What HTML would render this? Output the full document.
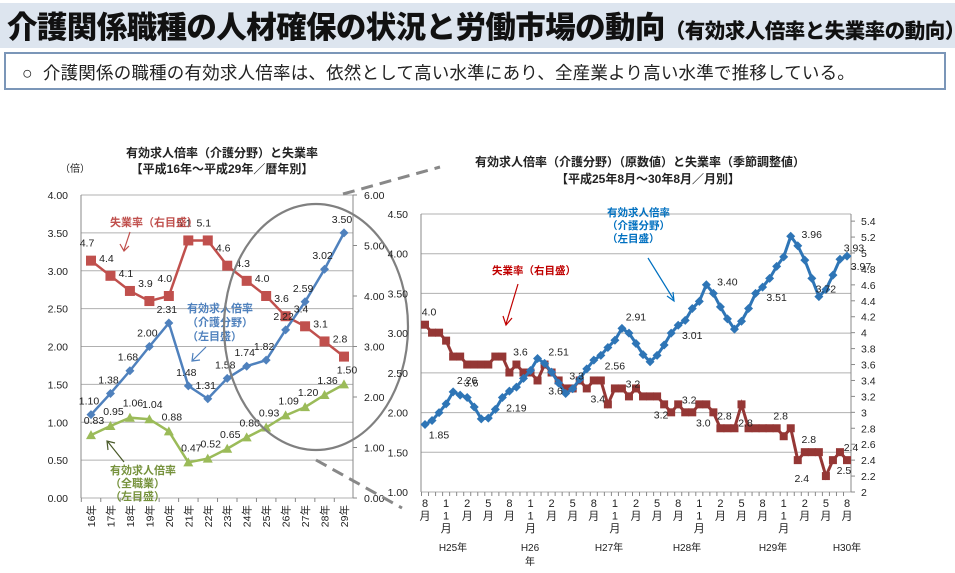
<!DOCTYPE html>
<html><head><meta charset="utf-8"><style>
body{margin:0;width:955px;height:573px;background:#fff;overflow:hidden;font-family:"Liberation Sans","Noto Sans CJK JP",sans-serif;position:relative}
#hdr{position:absolute;left:0;top:3px;width:955px;height:45px;background:#dde5ef}
#title{position:absolute;left:7px;top:3px;font-size:30.5px;font-weight:900;color:#111;white-space:nowrap;letter-spacing:-0.6px}
#title span{font-size:20.5px;letter-spacing:-0.5px}
#box{position:absolute;left:4px;top:52px;width:942px;height:38px;border:2px solid #7b96b8;box-sizing:border-box}
#boxt{position:absolute;left:16px;top:6px;font-size:17.5px;color:#222;white-space:nowrap;letter-spacing:0.2px}
svg{position:absolute;left:0;top:0}
</style></head><body>
<div id="hdr"></div>
<div id="title">介護関係職種の人材確保の状況と労働市場の動向<span>（有効求人倍率と失業率の動向）</span></div>
<div id="box"><div id="boxt">○&nbsp; 介護関係の職種の有効求人倍率は、依然として高い水準にあり、全産業より高い水準で推移している。</div></div>
<svg id="chart" width="955" height="573"></svg>
<script>
// ---- left chart data ----
const leftCats = ['16年','17年','18年','19年','20年','21年','22年','23年','24年','25年','26年','27年','28年','29年'];
const leftCare = [1.10,1.38,1.68,2.00,2.31,1.48,1.31,1.58,1.74,1.82,2.22,2.59,3.02,3.50];
const leftAll = [0.83,0.95,1.06,1.04,0.88,0.47,0.52,0.65,0.80,0.93,1.09,1.20,1.36,1.50];
const leftUnemp = [4.7,4.4,4.1,3.9,4.0,5.1,5.1,4.6,4.3,4.0,3.6,3.4,3.1,2.8];
const leftTicksL = ['0.00','0.50','1.00','1.50','2.00','2.50','3.00','3.50','4.00'];
const leftTicksR = ['0.00','1.00','2.00','3.00','4.00','5.00','6.00'];
// ---- right chart data ----
const rightCare = [1.85,1.90,2.00,2.11,2.26,2.22,2.19,2.07,1.92,1.93,2.04,2.19,2.27,2.32,2.43,2.53,2.68,2.62,2.51,2.37,2.24,2.30,2.42,2.55,2.66,2.72,2.82,2.91,3.06,3.00,2.87,2.73,2.64,2.72,2.85,3.00,3.10,3.16,3.31,3.40,3.61,3.50,3.33,3.18,3.05,3.15,3.31,3.50,3.58,3.69,3.84,3.96,4.22,4.10,3.92,3.69,3.46,3.55,3.73,3.93,3.97];
const rightUnemp = [4.1,4.0,4.0,3.9,3.7,3.7,3.6,3.6,3.6,3.6,3.7,3.7,3.5,3.6,3.5,3.5,3.4,3.6,3.5,3.4,3.3,3.3,3.4,3.3,3.4,3.4,3.1,3.3,3.3,3.2,3.3,3.2,3.2,3.2,3.1,3.0,3.1,3.0,3.0,3.1,3.1,3.0,2.8,2.8,2.8,3.1,2.8,2.8,2.8,2.8,2.8,2.7,2.8,2.4,2.5,2.5,2.5,2.2,2.4,2.5,2.4];
const rightTicksL = ['1.00','1.50','2.00','2.50','3.00','3.50','4.00','4.50'];
const rightTicksR = ['2','2.2','2.4','2.6','2.8','3','3.2','3.4','3.6','3.8','4','4.2','4.4','4.6','4.8','5','5.2','5.4'];
const rightMonths = ['8月','11月','2月','5月','8月','11月','2月','5月','8月','11月','2月','5月','8月','11月','2月','5月','8月','11月','2月','5月','8月'];
const rightYears = ['H25年','H26年','H27年','H28年','H29年','H30年'];
const rightCareLabels = ['1.85','2.26','2.19','2.51','2.56','2.91','3.01','3.40','3.51','3.96','3.72','3.93','3.97'];
const rightCareLabelIdx = [0,4,11,17,25,28,36,41,48,53,55,59,60];
const rightUnempLabels = ['4.0','3.6','3.6','3.6','3.3','3.4','3.2','3.2','3.2','3.0','2.8','2.8','2.8','2.4','2.8','2.5','2.4'];
const rightUnempLabelIdx = [0,6,13,18,21,24,29,33,37,39,42,45,50,53,54,59,60];

const S='http://www.w3.org/2000/svg', svg=document.getElementById('chart');
function mk(tag,at,parent){const e=document.createElementNS(S,tag);for(const k in at)e.setAttribute(k,at[k]);(parent||svg).appendChild(e);return e;}
function tx(x,y,s,at){const e=mk('text',Object.assign({x:x,y:y,'font-size':10.5,fill:'#222','font-family':'"Liberation Sans","Noto Sans CJK JP",sans-serif'},at||{}));e.textContent=s;return e;}

// ===== LEFT CHART =====
const L={x0:81,x1:353,y0:498,y1:195};
const lx=i=>91+i*(344-91)/(leftCats.length-1);
const lyL=v=>L.y0-(v/4)*(L.y0-L.y1);
const lyR=v=>L.y0-(v/6)*(L.y0-L.y1);
let g=mk('g',{});


let e;
leftTicksL.forEach(t=>{const y=lyL(+t);const l=mk('line',{x1:L.x0,x2:L.x1,y1:y,y2:y,stroke:'#b0b0b0','stroke-width':1},g);
 e=tx(68,y+4,t,{'text-anchor':'end'});});
leftTicksR.forEach(t=>{const y=lyR(+t);mk('line',{x1:L.x1,x2:L.x1+4,y1:y,y2:y,stroke:'#888'},g);
 e=tx(364,y+4,t);});
mk('line',{x1:L.x0,x2:L.x0,y1:L.y1,y2:L.y0,stroke:'#888'},g);
mk('line',{x1:L.x1,x2:L.x1,y1:L.y1,y2:L.y0,stroke:'#888'},g);
leftCats.forEach((c,i)=>{e=tx(lx(i)+4,505,c,{'text-anchor':'end',transform:`rotate(-90 ${lx(i)+4} 505)`});
 mk('line',{x1:lx(i)-9.7,x2:lx(i)-9.7,y1:L.y0,y2:L.y0+4,stroke:'#888'},g);});
function series(vals,xf,yf,color,marker,w,name,ms){
 const pts=vals.map((v,i)=>[xf(i),yf(v)]);
 const p=mk('polyline',{points:pts.map(p=>p.join(',')).join(' '),fill:'none',stroke:color,'stroke-width':w});
 
 pts.forEach(([x,y])=>{let m;
  if(marker==='sq')m=mk('rect',{x:x-ms,y:y-ms,width:2*ms,height:2*ms,fill:color});
  else if(marker==='di')m=mk('polygon',{points:`${x},${y-ms} ${x+ms},${y} ${x},${y+ms} ${x-ms},${y}`,fill:color});
  else m=mk('polygon',{points:`${x},${y-ms} ${x+ms},${y+ms*0.8} ${x-ms},${y+ms*0.8}`,fill:color});
  });
 return pts;}
const pu=series(leftUnemp,lx,lyR,'#c0504d','sq',2.5,'left-unemployment',5);
const pc=series(leftCare,lx,lyL,'#4f81bd','di',2.5,'left-care-ratio',4.5);
const pa=series(leftAll,lx,lyL,'#9bbb59','tri',2.5,'left-all-ratio',5);
leftUnemp.forEach((v,i)=>{e=tx(pu[i][0]-4,pu[i][1]-14,v.toFixed(1),{'text-anchor':'middle'});});
leftCare.forEach((v,i)=>{e=tx(pc[i][0]-2,pc[i][1]-10,v.toFixed(2),{'text-anchor':'middle'});});
leftAll.forEach((v,i)=>{e=tx(pa[i][0]+3,pa[i][1]-11,v.toFixed(2),{'text-anchor':'middle'});});
e=tx(222,157,'有効求人倍率（介護分野）と失業率',{'text-anchor':'middle','font-size':12,'font-weight':'bold'});
e=tx(222,173,'【平成16年～平成29年／暦年別】',{'text-anchor':'middle','font-size':12,'font-weight':'bold'});
e=tx(60,172,'（倍）',{'font-size':10});
e=tx(110,226,'失業率（右目盛）',{'font-size':11,'font-weight':'bold',fill:'#c0504d'});
mk('path',{d:'M130,232 L124,250 M120,244 L124,251 L129,246',stroke:'#c0504d',fill:'none','stroke-width':1.2});
['有効求人倍率','（介護分野）','（左目盛）'].forEach((s,k)=>{e=tx(187,312+k*14,s,{'font-size':11,'font-weight':'bold',fill:'#4f81bd'});});
mk('path',{d:'M206,347 L193,360 M193,353 L192,361 L200,360',stroke:'#4f81bd',fill:'none','stroke-width':1.2});
['有効求人倍率','（全職業）','（左目盛）'].forEach((s,k)=>{e=tx(110,474+k*13,s,{'font-size':11,'font-weight':'bold',fill:'#76923c'});});
mk('path',{d:'M124,462 L108,442 M108,450 L107,441 L115,443',stroke:'#4a5a2a',fill:'none','stroke-width':1.2});
e=mk('ellipse',{cx:316,cy:327,rx:92,ry:123,fill:'none',stroke:'#808080','stroke-width':2.2});
mk('line',{x1:343,y1:194,x2:440,y2:167,stroke:'#888','stroke-width':3,'stroke-dasharray':'12,7'});
mk('line',{x1:316,y1:460,x2:402,y2:508,stroke:'#888','stroke-width':3,'stroke-dasharray':'12,7'});

// ===== RIGHT CHART =====
const R={x0:421,x1:851,y0:492,y1:214};
const rx=i=>425+i*(847-425)/(rightCare.length-1);
const ryL=v=>R.y0-(v-1)/3.5*(R.y0-R.y1);
const ryR=v=>R.y0-(v-2)/3*(R.y0-253);
rightTicksL.forEach(t=>{const y=ryL(+t);const l=mk('line',{x1:R.x0,x2:R.x1,y1:y,y2:y,stroke:'#b0b0b0'});
 e=tx(408,y+4,t,{'text-anchor':'end'});});
rightTicksR.forEach(t=>{const y=ryR(+t);mk('line',{x1:R.x1,x2:R.x1+4,y1:y,y2:y,stroke:'#888'});
 e=tx(861,y+4,t);});
mk('line',{x1:R.x0,x2:R.x0,y1:R.y1,y2:R.y0,stroke:'#888'});
mk('line',{x1:R.x1,x2:R.x1,y1:R.y1,y2:R.y0,stroke:'#888'});
rightCare.forEach((v,i)=>mk('line',{x1:rx(i)-3.5,x2:rx(i)-3.5,y1:R.y0,y2:R.y0+4,stroke:'#888'}));
rightMonths.forEach((m,k)=>{const x=rx(k*3);const ch=m.length===3?['1','1','月']:[m[0],'月'];
 ch.forEach((c,j)=>{e=tx(x,507+j*12.5,c,{'text-anchor':'middle','font-size':11});});});
const yrX=[453,530,609,687,773,847];
rightYears.forEach((y,k)=>{const s=k===1?'H26':y;e=tx(yrX[k],551,s,{'text-anchor':'middle','font-size':10});
 if(k===1){e=tx(530,565,'年',{'text-anchor':'middle','font-size':10});}});
const ru=series(rightUnemp,rx,ryR,'#953735','sq',3,'right-unemployment',4);
const rc=series(rightCare,rx,ryL,'#2e75b6','di',3,'right-care-ratio',4.5);
rightCareLabelIdx.forEach((i,k)=>{e=tx(rc[i][0]+14,rc[i][1]+(k%2?-8:14),rightCareLabels[k],{'text-anchor':'middle'});});
rightUnempLabelIdx.forEach((i,k)=>{e=tx(ru[i][0]+4,ru[i][1]+(k%2?22:-9),rightUnempLabels[k],{'text-anchor':'middle'});});
e=tx(640,166,'有効求人倍率（介護分野）（原数値）と失業率（季節調整値）',{'text-anchor':'middle','font-size':12,'font-weight':'bold'});
e=tx(648,183,'【平成25年8月～30年8月／月別】',{'text-anchor':'middle','font-size':12,'font-weight':'bold'});
e=tx(492,274,'失業率（右目盛）',{'font-size':10.5,'font-weight':'bold',fill:'#c00000'});
mk('path',{d:'M518,284 L506,324 M503,316 L506,325 L512,318',stroke:'#c00000',fill:'none','stroke-width':1.2});
['有効求人倍率','（介護分野）','（左目盛）'].forEach((s,k)=>{e=tx(607,216+k*13,s,{'font-size':10.5,'font-weight':'bold',fill:'#0070c0'});});
mk('path',{d:'M648,258 L674,300 M667,296 L674,301 L673,292',stroke:'#0070c0',fill:'none','stroke-width':1.2});
</script>
</body></html>
